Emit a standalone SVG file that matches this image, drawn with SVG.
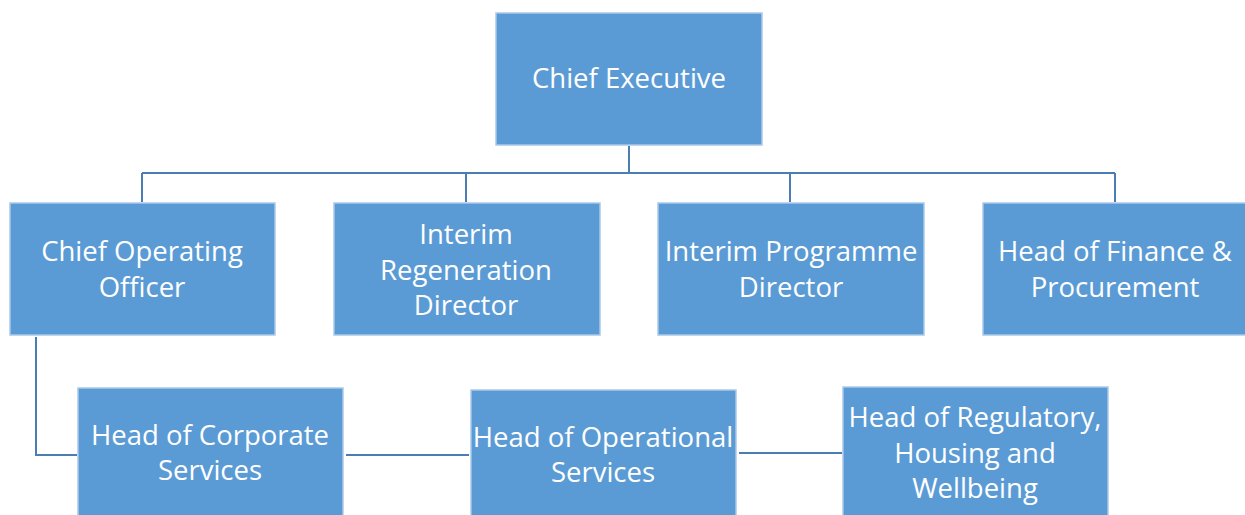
<svg xmlns="http://www.w3.org/2000/svg" width="1245" height="515" viewBox="0 0 1245 515">
  <style>
    .box { fill: #5b9bd5; stroke: #a9c9e9; stroke-width: 1.5; }
    .lbl { fill: #ffffff; font-family: "Open Sans", "Liberation Sans", sans-serif; font-size: 27.5px; text-anchor: middle; }
    .ln { fill: none; stroke: #4a7eb3; stroke-width: 2; }
  </style>
  <rect width="1245" height="515" fill="#ffffff"/>

  <!-- connectors -->
  <g id="connectors">
    <path class="ln" d="M629 146 V173 M142 173 H1115 M142 173 V202 M466 173 V202 M790 173 V202 M1115 173 V202"/>
    <path class="ln" d="M36 337 V455 H77" stroke-width="2.5"/>
    <path class="ln" d="M346 455 H469" stroke-width="3"/>
    <path class="ln" d="M739 453 H842" stroke-width="1.5"/>
  </g>

  <g id="chief-executive">
    <rect class="box" x="496" y="13" width="266" height="132"/>
    <text class="lbl" x="629" y="88">Chief Executive</text>
  </g>

  <g id="chief-operating-officer">
    <rect class="box" x="10" y="203" width="265" height="132"/>
    <text class="lbl" x="142" y="261">Chief Operating</text>
    <text class="lbl" x="142" y="297">Officer</text>
  </g>

  <g id="interim-regeneration-director">
    <rect class="box" x="334" y="203" width="266" height="132"/>
    <text class="lbl" x="466" y="244">Interim</text>
    <text class="lbl" x="466" y="280">Regeneration</text>
    <text class="lbl" x="466" y="315">Director</text>
  </g>

  <g id="interim-programme-director">
    <rect class="box" x="658" y="203" width="266" height="132"/>
    <text class="lbl" x="791" y="261">Interim Programme</text>
    <text class="lbl" x="791" y="297">Director</text>
  </g>

  <g id="head-finance-procurement">
    <rect class="box" x="983" y="203" width="264" height="132"/>
    <text class="lbl" x="1115" y="261">Head of Finance &amp;</text>
    <text class="lbl" x="1115" y="297">Procurement</text>
  </g>

  <g id="head-corporate-services">
    <rect class="box" x="78" y="388" width="265" height="130"/>
    <text class="lbl" x="210" y="445">Head of Corporate</text>
    <text class="lbl" x="210" y="480">Services</text>
  </g>

  <g id="head-operational-services">
    <rect class="box" x="471" y="390" width="265" height="128"/>
    <text class="lbl" x="603" y="447">Head of Operational</text>
    <text class="lbl" x="603" y="482">Services</text>
  </g>

  <g id="head-regulatory-housing-wellbeing">
    <rect class="box" x="843" y="387" width="265" height="131"/>
    <text class="lbl" x="975" y="427">Head of Regulatory,</text>
    <text class="lbl" x="975" y="463">Housing and</text>
    <text class="lbl" x="975" y="498">Wellbeing</text>
  </g>
</svg>
